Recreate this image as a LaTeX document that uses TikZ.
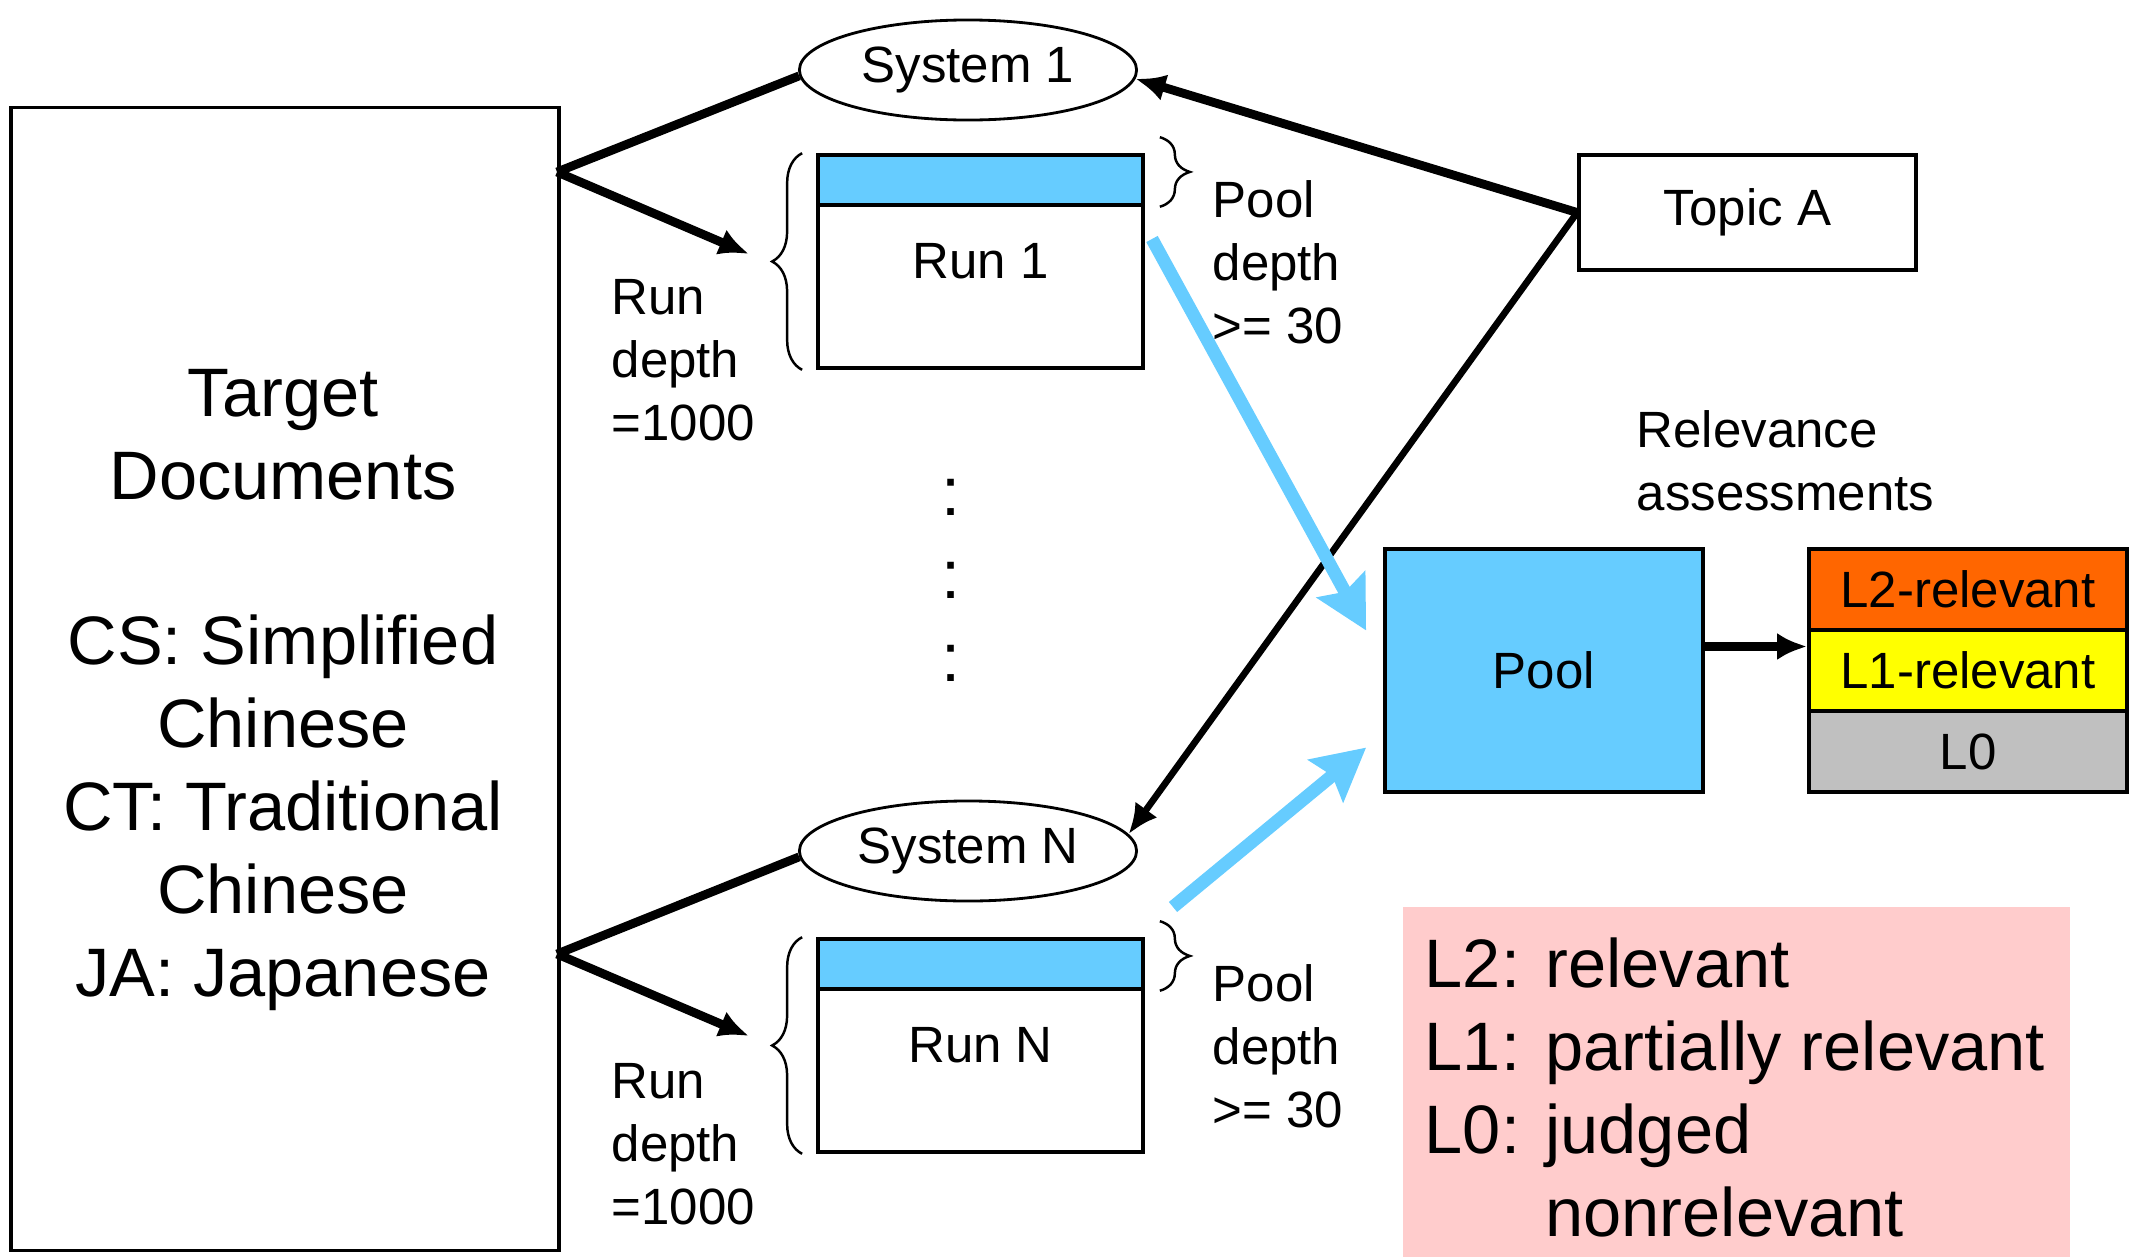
\documentclass[tikz,border=0pt]{standalone}
\usepackage{fontspec}
\setmainfont{Liberation Sans}
\usetikzlibrary{shapes.geometric,decorations.pathreplacing,arrows.meta}
\definecolor{poolblue}{RGB}{102,204,255}
\definecolor{ltwocol}{RGB}{255,102,0}
\definecolor{lonecol}{RGB}{255,255,0}
\definecolor{lzerocol}{RGB}{192,192,192}
\definecolor{legendpink}{RGB}{255,204,204}
\newcommand{\bigtext}{\fontsize{19.5}{23.6}\selectfont}
\newcommand{\smalltext}{\fontsize{14.5}{17.9}\selectfont}
\begin{document}
\begin{tikzpicture}[x=0.01cm,y=-0.01cm,>={Latex[length=0.3cm,width=0.27cm]},
  sysnode/.style={draw,ellipse,line width=0.8pt,minimum width=3.37cm,minimum height=1cm,inner sep=0pt,font=\smalltext},
  runbox/.style={draw,line width=1pt,minimum width=3.25cm,minimum height=2.13cm,inner sep=0pt,font=\smalltext},
  poolband/.style={draw,fill=poolblue,line width=1pt,minimum width=3.25cm,minimum height=0.5cm,inner sep=0pt},
  lbl/.style={align=left,anchor=west,inner sep=0pt,font=\smalltext},
  link/.style={line width=2.5pt},
  feed/.style={line width=0.13cm,color=poolblue,-{Stealth[length=0.52cm,width=0.54cm,inset=0.08cm]}},
  brc/.style={decorate,decoration={brace,amplitude=0.3cm},line width=0.7pt},
  level/.style={draw,line width=1pt,minimum width=3.18cm,minimum height=0.81cm,inner sep=0pt,font=\smalltext}]
\useasboundingbox (0,0) rectangle (2138,1257);
\def\runtop{261.5}
\def\runbot{1045.5}
\node[draw,line width=1pt,minimum width=5.48cm,minimum height=11.42cm] (target) at (285,679) {};
\node[align=center,inner sep=0pt,font=\bigtext] (targettext) at (283,690)
  {Target\\Documents\\[23.6pt]CS: Simplified\\Chinese\\CT: Traditional\\Chinese\\JA: Japanese};
\node[sysnode] (sys1) at (968,70) {System 1};
\node[sysnode] (sysN) at (968,851) {System N};
\node[runbox] (run1) at (980.5,\runtop) {Run 1};
\node[poolband,anchor=north] (band1) at (run1.north) {};
\node[runbox] (runN) at (980.5,\runbot) {Run N};
\node[poolband,anchor=north] (bandN) at (runN.north) {};
\draw[brc] ([xshift=-0.14cm]run1.south west) -- ([xshift=-0.14cm]run1.north west);
\draw[brc] ([xshift=-0.14cm]runN.south west) -- ([xshift=-0.14cm]runN.north west);
\draw[brc] ([shift={(0.15cm,0.16cm)}]band1.north east) -- ([xshift=0.15cm]band1.south east);
\draw[brc] ([shift={(0.15cm,0.16cm)}]bandN.north east) -- ([xshift=0.15cm]bandN.south east);
\node[lbl] (rdepth1) at (611,360) {Run\\depth\\=1000};
\node[lbl] (rdepthN) at (611,1144) {Run\\depth\\=1000};
\node[lbl] (pdepth1) at (1212,262) {Pool\\depth\\>= 30};
\node[lbl] (pdepthN) at (1212,1046) {Pool\\depth\\>= 30};
\foreach \y [count=\i] in {497,580,663}
  \node[inner sep=0pt,font=\bigtext] (dots\i) at (951,\y) {:};
\node[draw,line width=1pt,minimum width=3.37cm,minimum height=1.15cm,font=\smalltext] (topic) at (1747.5,212.5) {Topic A};
\node[lbl] (assess) at (1636,460.5) {Relevance\\assessments};
\node[draw,fill=poolblue,line width=1pt,minimum width=3.18cm,minimum height=2.43cm,font=\smalltext] (pool) at (1544,670.5) {Pool};
\node[level,fill=ltwocol] (ltwo) at (1968,589.5) {L2-relevant};
\node[level,fill=lonecol] (lone) at (1968,670.5) {L1-relevant};
\node[level,fill=lzerocol] (lzero) at (1968,751.5) {L0};
\node[fill=legendpink,minimum width=6.67cm,minimum height=3.5cm] (legend) at (1736.5,1082) {};
\node[anchor=west,inner sep=0pt,font=\bigtext] (legtext) at ([shift={(0.22cm,-0.13cm)}]legend.west)
  {\begin{tabular}{@{}l@{ }l@{}}L2:&relevant\\L1:&partially relevant\\L0:&judged\\&nonrelevant\end{tabular}};
\coordinate (fork1) at (557,172);
\coordinate (fork2) at (557,954);
\coordinate (run1in) at (749,254);
\coordinate (runNin) at (749,1036);
\draw[link] (fork1) -- (sys1.182);
\draw[link,->] (fork1) -- (run1in);
\draw[link] (fork2) -- (sysN.182);
\draw[link,->] (fork2) -- (runNin);
\draw[link,->] (topic.west) -- (sys1.-3);
\draw[line width=1.9pt,->] (topic.west) -- (sysN.6);
\coordinate (feed1) at (1152,239);
\coordinate (feedN) at (1173,907);
\draw[feed] (feed1) -- ([shift={(-0.17cm,0.4cm)}]pool.west);
\draw[feed] (feedN) -- ([shift={(-0.17cm,-0.77cm)}]pool.west);
\draw[link,->] ([yshift=0.24cm]pool.east) -- ([yshift=0.24cm]lone.west);
\end{tikzpicture}
\end{document}
